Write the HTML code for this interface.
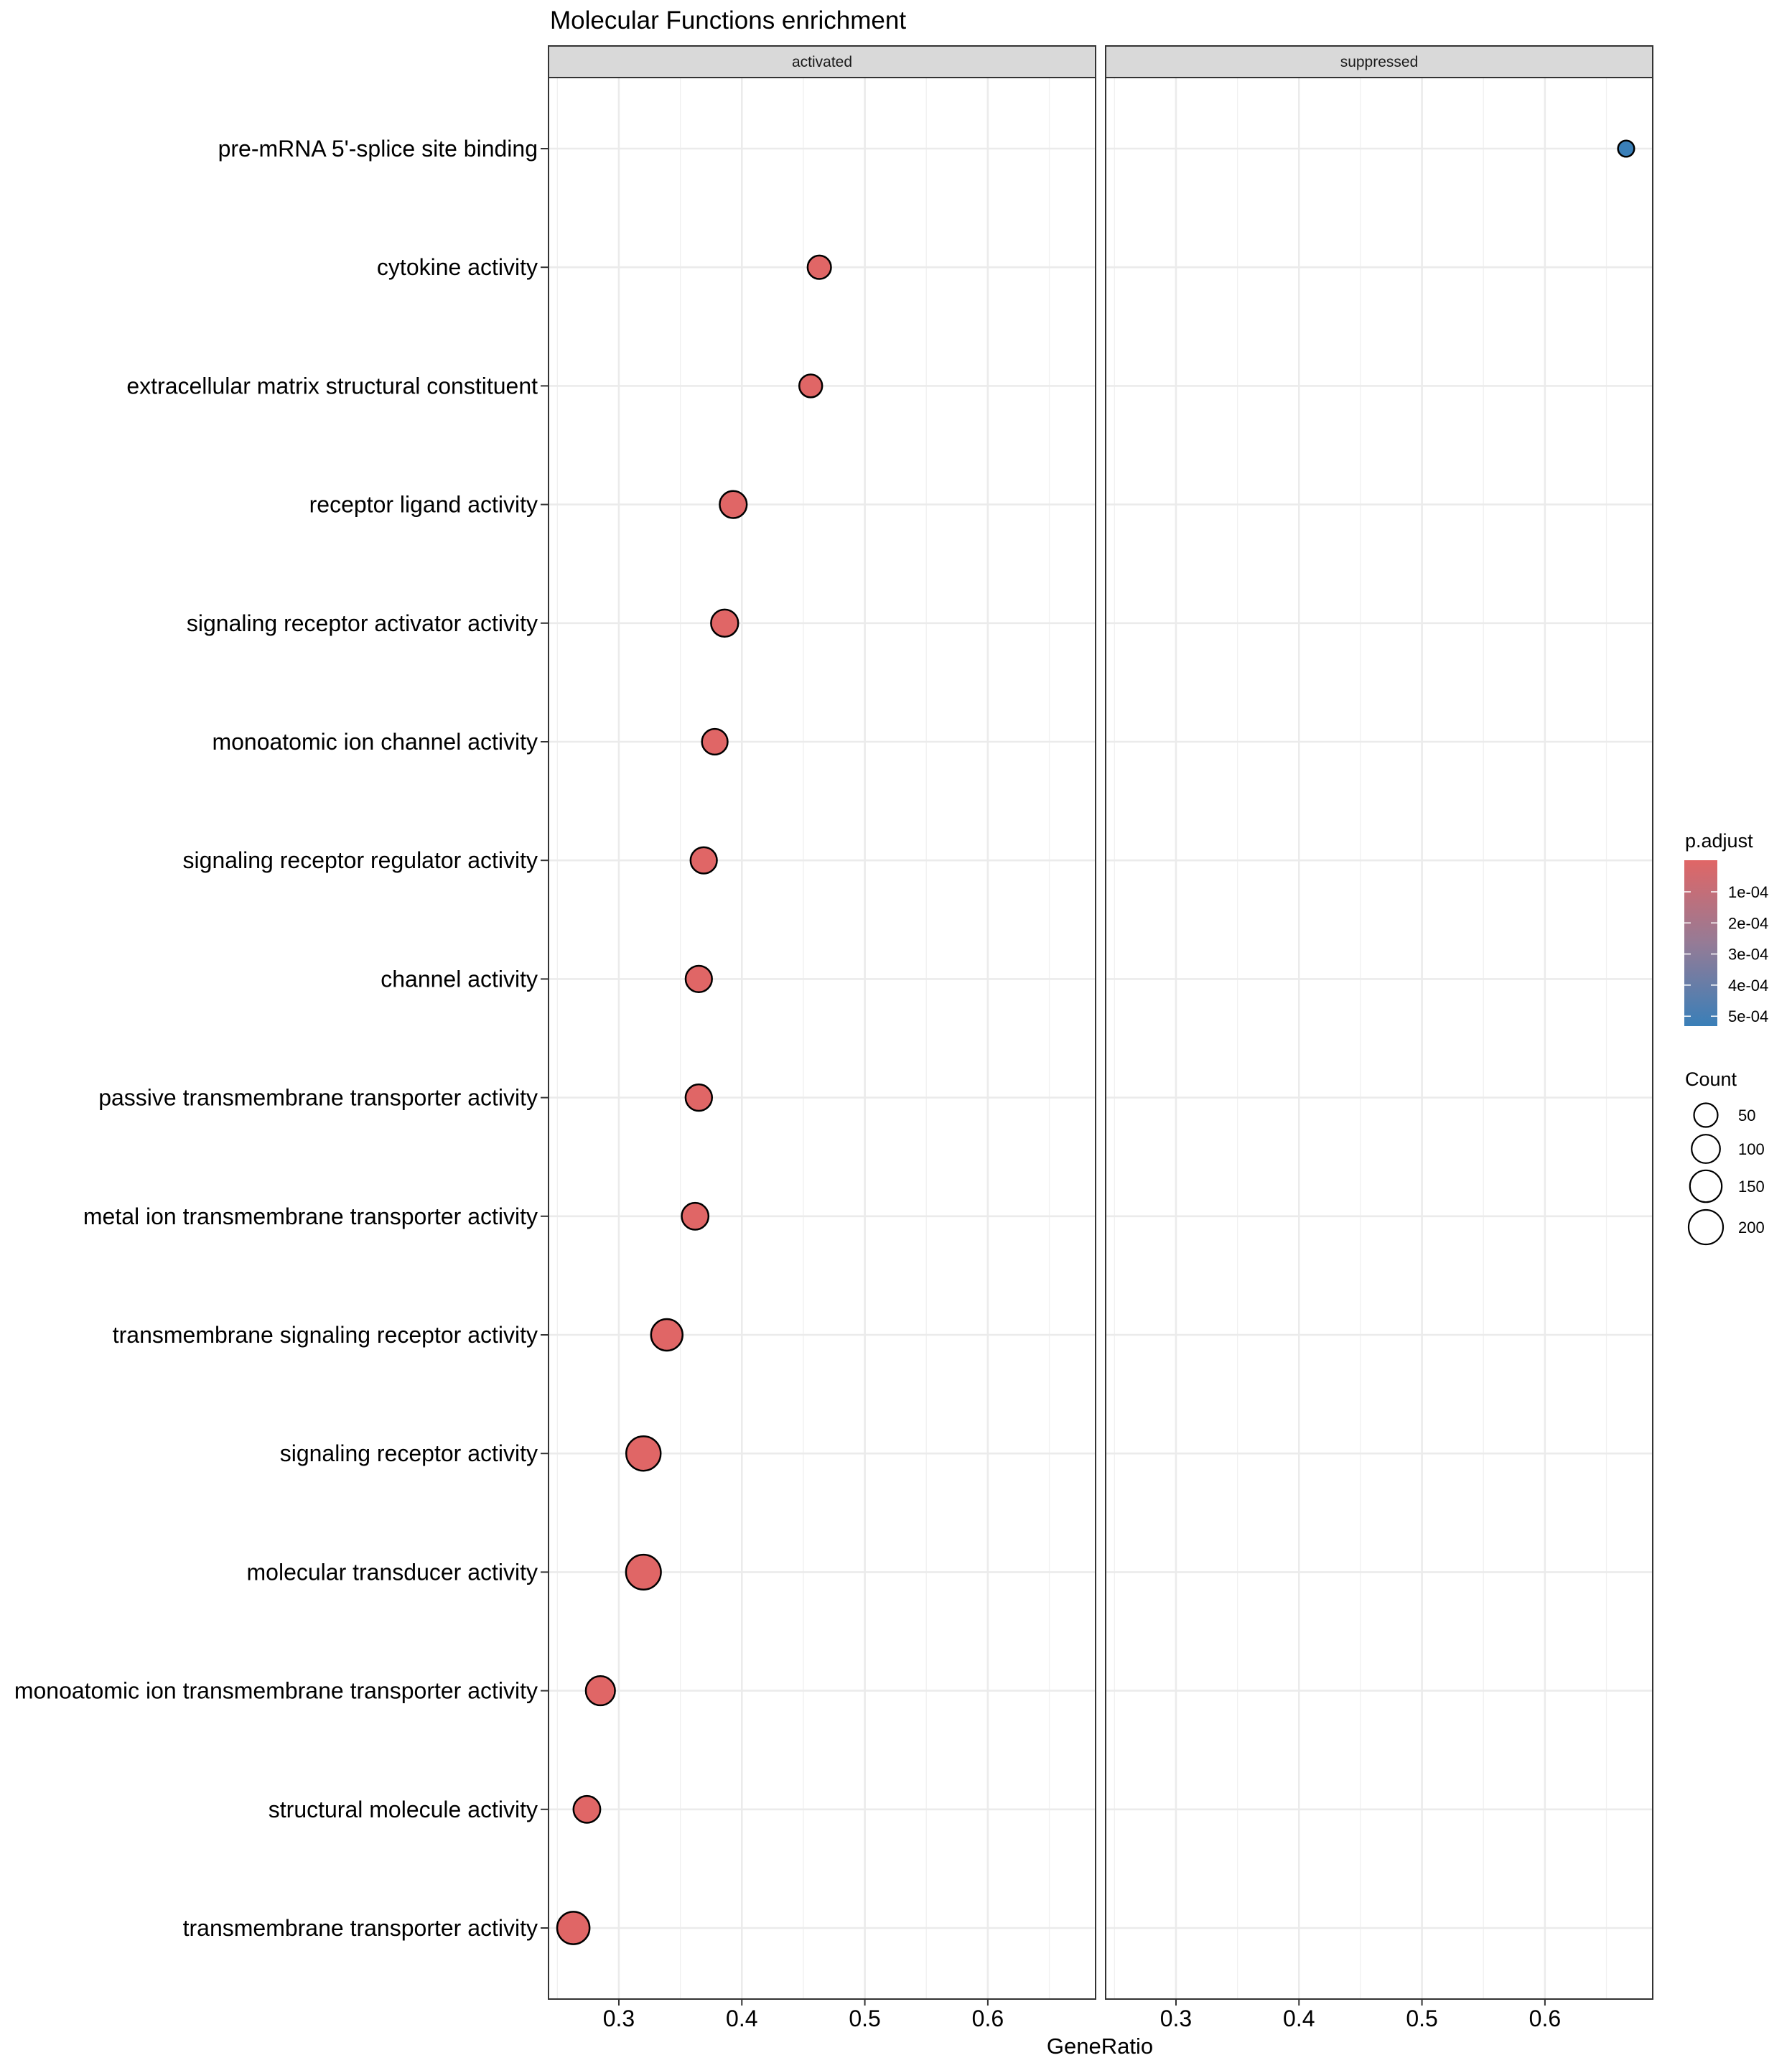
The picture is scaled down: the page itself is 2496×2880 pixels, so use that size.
<!DOCTYPE html>
<html><head><meta charset="utf-8"><style>
html,body{margin:0;padding:0;background:#fff;}
svg{display:block;font-family:"Liberation Sans",Arial,sans-serif;}
</style></head><body>
<svg id="chart" width="2496" height="2880" viewBox="0 0 2496 2880" xmlns="http://www.w3.org/2000/svg">
<text x="766" y="40" font-size="35" fill="#000">Molecular Functions enrichment</text>
<g id="grid"></g><g id="axes"></g><g id="marks"></g><g id="legend"></g>
</svg>
<script>
const categories = ["pre-mRNA 5'-splice site binding","cytokine activity","extracellular matrix structural constituent","receptor ligand activity","signaling receptor activator activity","monoatomic ion channel activity","signaling receptor regulator activity","channel activity","passive transmembrane transporter activity","metal ion transmembrane transporter activity","transmembrane signaling receptor activity","signaling receptor activity","molecular transducer activity","monoatomic ion transmembrane transporter activity","structural molecule activity","transmembrane transporter activity"];
const facets = ["activated","suppressed"];
const activatedRatio = [null,0.463,0.456,0.393,0.386,0.378,0.369,0.365,0.365,0.362,0.339,0.320,0.320,0.285,0.274,0.263];
const activatedCount = [null,48,45,85,86,70,77,77,78,82,145,200,210,110,82,160];
const suppressedRatio = [0.666,null,null,null,null,null,null,null,null,null,null,null,null,null,null,null];
const suppressedCount = [8,null,null,null,null,null,null,null,null,null,null,null,null,null,null,null];
const xTicks = [0.3,0.4,0.5,0.6];
const xMinor = [0.25,0.35,0.45,0.55,0.65];
const colorTicks = ["1e-04","2e-04","3e-04","4e-04","5e-04"];
const sizeTicks = [50,100,150,200];

const NS="http://www.w3.org/2000/svg";
function mk(tag,attrs,parent,text){const e=document.createElementNS(NS,tag);for(const k in attrs)e.setAttribute(k,attrs[k]);if(text!==undefined)e.textContent=text;parent.appendChild(e);return e;}
const panelLefts=[764,1540], PW=762, PT=108, PB=2784, XMIN=0.2428, XMAX=0.2428+762/1713;
const yRow=i=>207+i*(2685-207)/(categories.length-1);
const xScale=(p,v)=>panelLefts[p]+(v-XMIN)/(XMAX-XMIN)*PW;
function rScale(c){const pts=[[0,100],[50,272],[100,392],[150,493],[200,576],[250,655]];for(let i=1;i<pts.length;i++){if(c<=pts[i][0]||i===pts.length-1){const a=pts[i-1],b=pts[i];return Math.sqrt(a[1]+(c-a[0])*(b[1]-a[1])/(b[0]-a[0]));}}}
const grid=document.getElementById('grid'),axes=document.getElementById('axes'),marks=document.getElementById('marks'),legend=document.getElementById('legend');

facets.forEach((f,p)=>{
  const L=panelLefts[p];
  const g=mk('g',{},grid);
  
  
  mk('rect',{x:L,y:PT,width:PW,height:PB-PT,fill:'#fff'},g);
  xMinor.forEach(v=>{const x=xScale(p,v);mk('line',{x1:x,x2:x,y1:PT,y2:PB,stroke:'#f0f0f0','stroke-width':1.3},g);});
  xTicks.forEach(v=>{const x=xScale(p,v);mk('line',{x1:x,x2:x,y1:PT,y2:PB,stroke:'#ebebeb','stroke-width':2.6},g);});
  categories.forEach((c,i)=>{const y=yRow(i);mk('line',{x1:L,x2:L+PW,y1:y,y2:y,stroke:'#ebebeb','stroke-width':2.6},g);});
  mk('rect',{x:L,y:PT,width:PW,height:PB-PT,fill:'none',stroke:'#333','stroke-width':2},g);
  const s=mk('rect',{x:L,y:64,width:PW,height:44,fill:'#d9d9d9',stroke:'#333','stroke-width':2},g);
  
  
  const st=mk('text',{x:L+PW/2,y:93,'font-size':21,'text-anchor':'middle',fill:'#1a1a1a'},g,f);
  
  
  xTicks.forEach(v=>{const x=xScale(p,v);
    mk('line',{x1:x,x2:x,y1:PB,y2:PB+9,stroke:'#333','stroke-width':2},axes);
    const t=mk('text',{x:x,y:2822,'font-size':32,'text-anchor':'middle',fill:'#000'},axes,v.toFixed(1));
    
    
  });
});
categories.forEach((c,i)=>{const y=yRow(i);
  mk('line',{x1:753,x2:764,y1:y,y2:y,stroke:'#333','stroke-width':2},axes);
  const t=mk('text',{x:749,y:y+11,'font-size':32,'text-anchor':'end',fill:'#000'},axes,c);
  
  
});
const xt=mk('text',{x:1532,y:2860,'font-size':31,'text-anchor':'middle',fill:'#000'},axes,'GeneRatio');



function drawSeries(p,ratios,counts,color){
  ratios.forEach((v,i)=>{if(v===null)return;
    const c=mk('circle',{cx:xScale(p,v),cy:yRow(i),r:rScale(counts[i]),fill:color,stroke:'#000','stroke-width':2.5},marks);
    
    
  });
}
drawSeries(0,activatedRatio,activatedCount,'#e06666');
drawSeries(1,suppressedRatio,suppressedCount,'#3a7fb8');

const lt=mk('text',{x:2347,y:1180,'font-size':27,fill:'#000'},legend,'p.adjust');


const defs=mk('defs',{},legend);
const gr=mk('linearGradient',{id:'cb',x1:0,y1:0,x2:0,y2:1},defs);
mk('stop',{offset:'0','stop-color':'#e06666'},gr);
mk('stop',{offset:'0.5','stop-color':'#957b96'},gr);
mk('stop',{offset:'1','stop-color':'#3a7fb8'},gr);
const cb=mk('rect',{x:2346,y:1198,width:46,height:231,fill:'url(#cb)'},legend);


colorTicks.forEach((t,i)=>{const y=1242+i*43.3;
  mk('line',{x1:2346,x2:2355,y1:y,y2:y,stroke:'#fff','stroke-width':1.5},legend);
  mk('line',{x1:2383,x2:2392,y1:y,y2:y,stroke:'#fff','stroke-width':1.5},legend);
  const tx=mk('text',{x:2407,y:y+8,'font-size':22,fill:'#000'},legend,t);
  
  
});
const ct=mk('text',{x:2347,y:1512,'font-size':27,fill:'#000'},legend,'Count');


const sy=[1553,1600,1652,1709];
sizeTicks.forEach((s,i)=>{
  const c=mk('circle',{cx:2376,cy:sy[i],r:rScale(s),fill:'none',stroke:'#000','stroke-width':2.2},legend);
  
  
  const tx=mk('text',{x:2421,y:sy[i]+8,'font-size':22,fill:'#000'},legend,String(s));
  
  
});
</script>
</body></html>
